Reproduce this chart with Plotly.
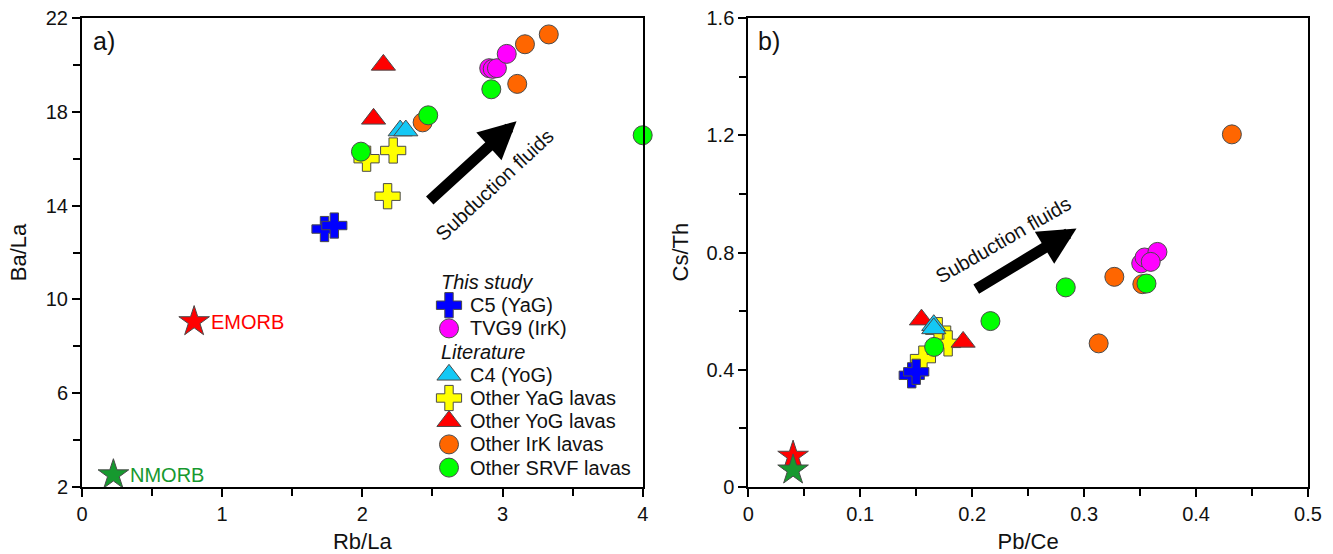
import plotly.graph_objects as go

# ---- Panel a: Rb/La vs Ba/La ----
c5_rbla = [1.73, 1.80]
c5_bala = [13.0, 13.15]
tvg9_rbla = [2.905, 2.93, 2.96, 3.03]
tvg9_bala = [19.86, 19.83, 19.86, 20.47]
c4_rbla = [2.27, 2.31]
c4_bala = [17.2, 17.2]
yag_rbla = [2.03, 2.22, 2.18]
yag_bala = [16.0, 16.35, 14.4]
yog_rbla = [2.15, 2.08]
yog_bala = [20.0, 17.7]
irk_rbla = [2.43, 3.16, 3.33, 3.105]
irk_bala = [17.55, 20.88, 21.3, 19.19]
srvf_rbla = [2.47, 1.99, 2.92, 4.0]
srvf_bala = [17.85, 16.3, 18.96, 17.0]
emorb_rbla, emorb_bala = [0.80], [9.05]
nmorb_rbla, nmorb_bala = [0.224], [2.52]

# ---- Panel b: Pb/Ce vs Cs/Th ----
c5_pbce = [0.146, 0.150]
c5_csth = [0.381, 0.393]
tvg9_pbce = [0.351, 0.354, 0.3655, 0.3595]
tvg9_csth = [0.763, 0.783, 0.802, 0.768]
c4_pbce = [0.1657, 0.1657]
c4_csth = [0.552, 0.541]
yag_pbce = [0.1696, 0.1785, 0.156]
yag_csth = [0.535, 0.49, 0.438]
yog_pbce = [0.1547, 0.1919]
yog_csth = [0.571, 0.495]
irk_pbce = [0.432, 0.327, 0.352, 0.313]
irk_csth = [1.203, 0.717, 0.692, 0.49]
srvf_pbce = [0.166, 0.2163, 0.2836, 0.3557]
srvf_csth = [0.478, 0.566, 0.681, 0.694]
emorb_pbce, emorb_csth = [0.04], [0.105]
nmorb_pbce, nmorb_csth = [0.04], [0.058]

FONT = "Liberation Sans, Arial, sans-serif"
TXT = "#111111"
EDGE = dict(color="#4a4a4a", width=1)

# figure geometry (pixels)
W, H = 1333, 554
L, R, T, B = 82, 25, 18, 67
pw, ph = W - L - R, H - T - B


def fx(px):
    """pixel column -> plot-area fraction"""
    return (px - L) / pw


def fy(py):
    """pixel row -> plot-area fraction"""
    return 1 - (py - T) / ph


# name, symbol, color, size, legend row, data for panel a and panel b
# (listed in drawing order, back to front)
groups = [
    ("Other YaG lavas", "cross", "#FFFF00", 21, 5, yag_rbla, yag_bala, yag_pbce, yag_csth),
    ("Other IrK lavas", "circle", "#FF6600", 19, 7, irk_rbla, irk_bala, irk_pbce, irk_csth),
    ("Other YoG lavas", "triangle-up", "#FF0000", 21, 6, yog_rbla, yog_bala, yog_pbce, yog_csth),
    ("C4 (YoG)", "triangle-up", "#14C8F5", 21, 4, c4_rbla, c4_bala, c4_pbce, c4_csth),
    ("Other SRVF lavas", "circle", "#00FF00", 19, 8, srvf_rbla, srvf_bala, srvf_pbce, srvf_csth),
    ("TVG9 (IrK)", "circle", "#FF00FF", 19, 2, tvg9_rbla, tvg9_bala, tvg9_pbce, tvg9_csth),
    ("C5 (YaG)", "cross", "#0000FF", 21, 1, c5_rbla, c5_bala, c5_pbce, c5_csth),
]
legend_titles = [("This study", 0), ("Literature", 3)]

# legend layout (pixels)
LEG_TOP, LEG_STEP = 282, 23.2
LEG_TITLE_X, LEG_SYM_X, LEG_TEXT_X = 439, 449, 468

fig = go.Figure()

for name, sym, col, size, row, xa, ya, xb, yb in groups:
    mk = dict(symbol=sym, color=col, size=size, line=EDGE)
    fig.add_trace(go.Scatter(x=xa, y=ya, mode="markers", name=name, marker=mk,
                             showlegend=False, cliponaxis=False, xaxis="x", yaxis="y"))
    fig.add_trace(go.Scatter(x=xb, y=yb, mode="markers", name=name, marker=mk,
                             showlegend=False, cliponaxis=False, xaxis="x2", yaxis="y2"))

# MORB reference compositions
for xs, ys, col, ax, ay in [
    (emorb_rbla, emorb_bala, "#FF0000", "x", "y"),
    (nmorb_rbla, nmorb_bala, "#16992F", "x", "y"),
    (emorb_pbce, emorb_csth, "#FF0000", "x2", "y2"),
    (nmorb_pbce, nmorb_csth, "#16992F", "x2", "y2"),
]:
    fig.add_trace(go.Scatter(
        x=xs, y=ys, mode="markers", showlegend=False, cliponaxis=False,
        marker=dict(symbol="star", size=23, color=col, line=EDGE),
        xaxis=ax, yaxis=ay))

annotations = [
    dict(x=emorb_rbla[0], y=emorb_bala[0], xref="x", yref="y", text="EMORB",
         showarrow=False, xanchor="left", xshift=15,
         font=dict(family=FONT, size=20, color="#FF0000")),
    dict(x=nmorb_rbla[0], y=nmorb_bala[0], xref="x", yref="y", text="NMORB",
         showarrow=False, xanchor="left", xshift=15,
         font=dict(family=FONT, size=20, color="#16992F")),
    # subduction-fluid arrows
    dict(x=3.10, y=17.6, ax=2.47, ay=14.16, xref="x", yref="y", axref="x", ayref="y",
         text="", showarrow=True, arrowhead=2, arrowwidth=11, arrowsize=0.68,
         arrowcolor="#000000", standoff=0),
    dict(x=0.2932, y=0.882, ax=0.2023, ay=0.672, xref="x2", yref="y2", axref="x2", ayref="y2",
         text="", showarrow=True, arrowhead=2, arrowwidth=11, arrowsize=0.68,
         arrowcolor="#000000", standoff=0),
    dict(x=2.94, y=14.9, xref="x", yref="y", text="Subduction fluids", showarrow=False,
         textangle=-43, font=dict(family=FONT, size=20, color=TXT)),
    dict(x=0.2275, y=0.843, xref="x2", yref="y2", text="Subduction fluids", showarrow=False,
         textangle=-30, font=dict(family=FONT, size=20, color=TXT)),
    dict(x=fx(91), y=fy(41), xref="paper", yref="paper", text="a)",
         showarrow=False, xanchor="left", yanchor="middle",
         font=dict(family=FONT, size=25, color=TXT)),
    dict(x=fx(756), y=fy(41), xref="paper", yref="paper", text="b)",
         showarrow=False, xanchor="left", yanchor="middle",
         font=dict(family=FONT, size=25, color=TXT)),
    # y title of panel b
    dict(x=fx(680), y=0.5, xref="paper", yref="paper", text="Cs/Th",
         showarrow=False, textangle=-90, xanchor="center", yanchor="middle",
         font=dict(family=FONT, size=22, color=TXT)),
]

# legend drawn on its own hidden pixel-scaled axes inside panel a
LX0, LX1, LY0, LY1 = 430, 640, 266, 480
for name, sym, col, size, row, *_ in groups:
    ry = LEG_TOP + row * LEG_STEP
    fig.add_trace(go.Scatter(x=[LEG_SYM_X], y=[ry], mode="markers", showlegend=False,
                             cliponaxis=False, hoverinfo="skip",
                             marker=dict(symbol=sym, color=col, size=size, line=EDGE),
                             xaxis="x3", yaxis="y3"))
    annotations.append(dict(x=LEG_TEXT_X, y=ry, xref="x3", yref="y3", text=name,
                            showarrow=False, xanchor="left", yanchor="middle",
                            font=dict(family=FONT, size=20, color=TXT)))
for title, row in legend_titles:
    annotations.append(dict(x=LEG_TITLE_X, y=LEG_TOP + row * LEG_STEP, xref="x3", yref="y3",
                            text=f"<i>{title}</i>", showarrow=False, xanchor="left",
                            yanchor="middle", font=dict(family=FONT, size=20, color=TXT)))

axis_common = dict(
    showline=True, linecolor="#000", linewidth=2, mirror=True,
    ticks="outside", ticklen=8, tickwidth=1.5, tickcolor="#000",
    showgrid=False, zeroline=False,
    tickfont=dict(family=FONT, size=20, color=TXT),
    automargin=False,
)
minor_common = dict(ticks="outside", ticklen=7, tickwidth=1.5, tickcolor="#000")
title_font = dict(family=FONT, size=22, color=TXT)

fig.update_layout(
    width=W, height=H,
    margin=dict(l=L, r=R, t=T, b=B),
    paper_bgcolor="white", plot_bgcolor="rgba(0,0,0,0)",
    font=dict(family=FONT, color=TXT),
    annotations=annotations,
    showlegend=False,
    xaxis=dict(domain=[0, fx(642.7)], range=[0, 4], dtick=1,
               minor=dict(dtick=0.5, **minor_common),
               title=dict(text="Rb/La", font=title_font, standoff=11),
               **axis_common),
    yaxis=dict(domain=[0, 1], range=[2, 22], dtick=4, tick0=2,
               minor=dict(dtick=2, **minor_common),
               title=dict(text="Ba/La", font=title_font, standoff=13),
               **axis_common),
    xaxis2=dict(domain=[fx(748.3), 1], range=[0, 0.5], dtick=0.1, anchor="y2",
                minor=dict(dtick=0.05, **minor_common),
                title=dict(text="Pb/Ce", font=title_font, standoff=11),
                **axis_common),
    yaxis2=dict(domain=[0, 1], range=[0, 1.6], dtick=0.4, anchor="x2",
                minor=dict(dtick=0.2, **minor_common),
                **axis_common),
    xaxis3=dict(domain=[fx(LX0), fx(LX1)], range=[LX0, LX1], anchor="y3", visible=False,
                fixedrange=True),
    yaxis3=dict(domain=[fy(LY1), fy(LY0)], range=[LY1, LY0], anchor="x3", visible=False,
                fixedrange=True),
)

fig.write_html("out.html")
